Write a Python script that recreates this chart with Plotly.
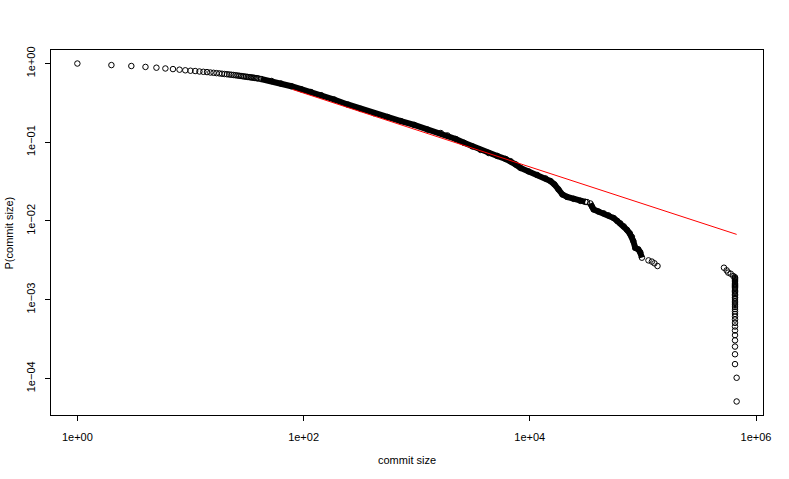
import numpy as np
import plotly.graph_objects as go

# small commits: one circle per integer size
small_size = list(range(1, 41))
small_p = [1.0, 0.955, 0.93, 0.905, 0.885, 0.865, 0.85, 0.835, 0.82, 0.81,
           0.803, 0.792, 0.785, 0.778, 0.769, 0.762, 0.755, 0.749, 0.742, 0.736,
           0.731, 0.725, 0.72, 0.715, 0.71, 0.704, 0.699, 0.694, 0.689, 0.684,
           0.68, 0.676, 0.672, 0.668, 0.664, 0.66, 0.656, 0.653, 0.649, 0.645]

# dense part of the curve (thousands of overlapping circles), two runs
band_size = [42, 52, 63, 78, 95, 116, 143, 186, 245, 321, 419, 553, 724, 949,
             1245, 1633, 1870, 2215, 2618, 3105, 3675, 4322, 5160, 6110, 6760,
             7480, 8280, 9750, 11620, 13760, 15240, 16520, 17920, 19430, 21370,
             24450, 28010, 30990]
band_p = [0.636, 0.600, 0.557, 0.515, 0.472, 0.435, 0.396, 0.349, 0.302, 0.265,
          0.234, 0.209, 0.186, 0.166, 0.145, 0.131, 0.122, 0.110, 0.0986, 0.0885,
          0.0799, 0.0731, 0.0670, 0.0613, 0.0575, 0.0523, 0.0472, 0.0426, 0.0384,
          0.0347, 0.0321, 0.0291, 0.0252, 0.0217, 0.0202, 0.0191, 0.0180, 0.0175]
band2_size = [34300, 35400, 36670, 40350, 44980, 49450, 55100, 59300, 63100,
              67750, 72250, 76500, 80000, 82200, 85600, 91000, 94700, 98000]
band2_p = [0.0167, 0.0153, 0.0140, 0.0132, 0.0125, 0.0118, 0.0109, 0.0100,
           0.00933, 0.00854, 0.00771, 0.00696, 0.00628, 0.00558, 0.00456,
           0.00436, 0.00400, 0.00342]

# isolated large commits
tail_size = [32060, 112000, 120000, 126500, 134600,
             521000, 550000, 568000, 597000, 630000] + [652000] * 36 + [674000, 674000]
tail_p = [0.0174, 0.00316, 0.00305, 0.00290, 0.00268,
          0.00255, 0.00236, 0.00221, 0.00214, 0.00200,
          1.93e-3, 1.88e-3, 1.83e-3, 1.78e-3, 1.73e-3, 1.68e-3, 1.62e-3, 1.57e-3,
          1.52e-3, 1.47e-3, 1.42e-3, 1.37e-3, 1.32e-3, 1.27e-3, 1.22e-3, 1.17e-3,
          1.12e-3, 1.07e-3, 1.02e-3, 9.6e-4, 9.1e-4, 8.6e-4, 8.1e-4, 7.6e-4,
          7.1e-4, 6.6e-4, 6.1e-4, 5.6e-4, 5.08e-4, 4.57e-4, 4.06e-4, 3.55e-4,
          3.05e-4, 2.54e-4, 2.03e-4, 1.52e-4, 1.02e-4, 5.1e-5]

# fitted power law
fit_size = [80, 674000]
fit_p = [0.468, 0.00676]

font = "Liberation Sans, Arial, sans-serif"
circle = dict(symbol="circle-open", size=5.5, color="black", line=dict(width=1))

fig = go.Figure()
fig.add_trace(go.Scatter(x=band_size + [None] + band2_size, y=band_p + [None] + band2_p,
                         mode="lines+markers", line=dict(color="black", width=6),
                         marker=circle, showlegend=False))
fig.add_trace(go.Scatter(x=small_size, y=small_p, mode="markers", marker=circle, showlegend=False))
fig.add_trace(go.Scatter(x=tail_size, y=tail_p, mode="markers", marker=circle, showlegend=False))
fig.add_trace(go.Scatter(x=fit_size, y=fit_p, mode="lines",
                         line=dict(color="red", width=1), showlegend=False))

# R style axis limits: data range plus 4% on each side
all_x = np.log10(small_size + band_size + band2_size + tail_size)
all_y = np.log10(small_p + band_p + band2_p + tail_p)
def rlim(v):
    pad = 0.04 * (v.max() - v.min())
    return [v.min() - pad, v.max() + pad]

axis_style = dict(type="log", showline=True, mirror=True, linecolor="black", linewidth=1,
                  ticks="outside", ticklen=5, tickwidth=1, tickcolor="black",
                  showgrid=False, zeroline=False, automargin=False,
                  tickfont=dict(family=font, size=11, color="black"))
fig.update_xaxes(range=rlim(all_x), tickvals=[1, 1e2, 1e4, 1e6],
                 ticktext=["1e+00", "1e+02", "1e+04", "1e+06"],
                 ticklabelstandoff=7, **axis_style)
fig.update_yaxes(range=rlim(all_y), tickvals=[1, 1e-1, 1e-2, 1e-3, 1e-4],
                 ticktext=["1e+00", "1e\u221201", "1e\u221202", "1e\u221203", "1e\u221204"],
                 tickangle=-90, ticklabelstandoff=6, **axis_style)

fig.add_annotation(text="commit size", xref="paper", yref="paper", x=0.5, y=-0.122,
                   showarrow=False, font=dict(family=font, size=11, color="black"),
                   xanchor="center", yanchor="middle")
fig.add_annotation(text="P(commit size)", xref="paper", yref="paper", x=-0.059, y=0.5,
                   textangle=-90, showarrow=False, font=dict(family=font, size=11, color="black"),
                   xanchor="center", yanchor="middle")

fig.update_layout(width=789, height=479, margin=dict(l=51, r=26, t=50, b=64),
                  plot_bgcolor="white", paper_bgcolor="white")
# drop the default 8px page margin so the figure fills the window
fig.write_html("out.html", config={"displayModeBar": False},
               post_script="document.body.style.margin='0';")
